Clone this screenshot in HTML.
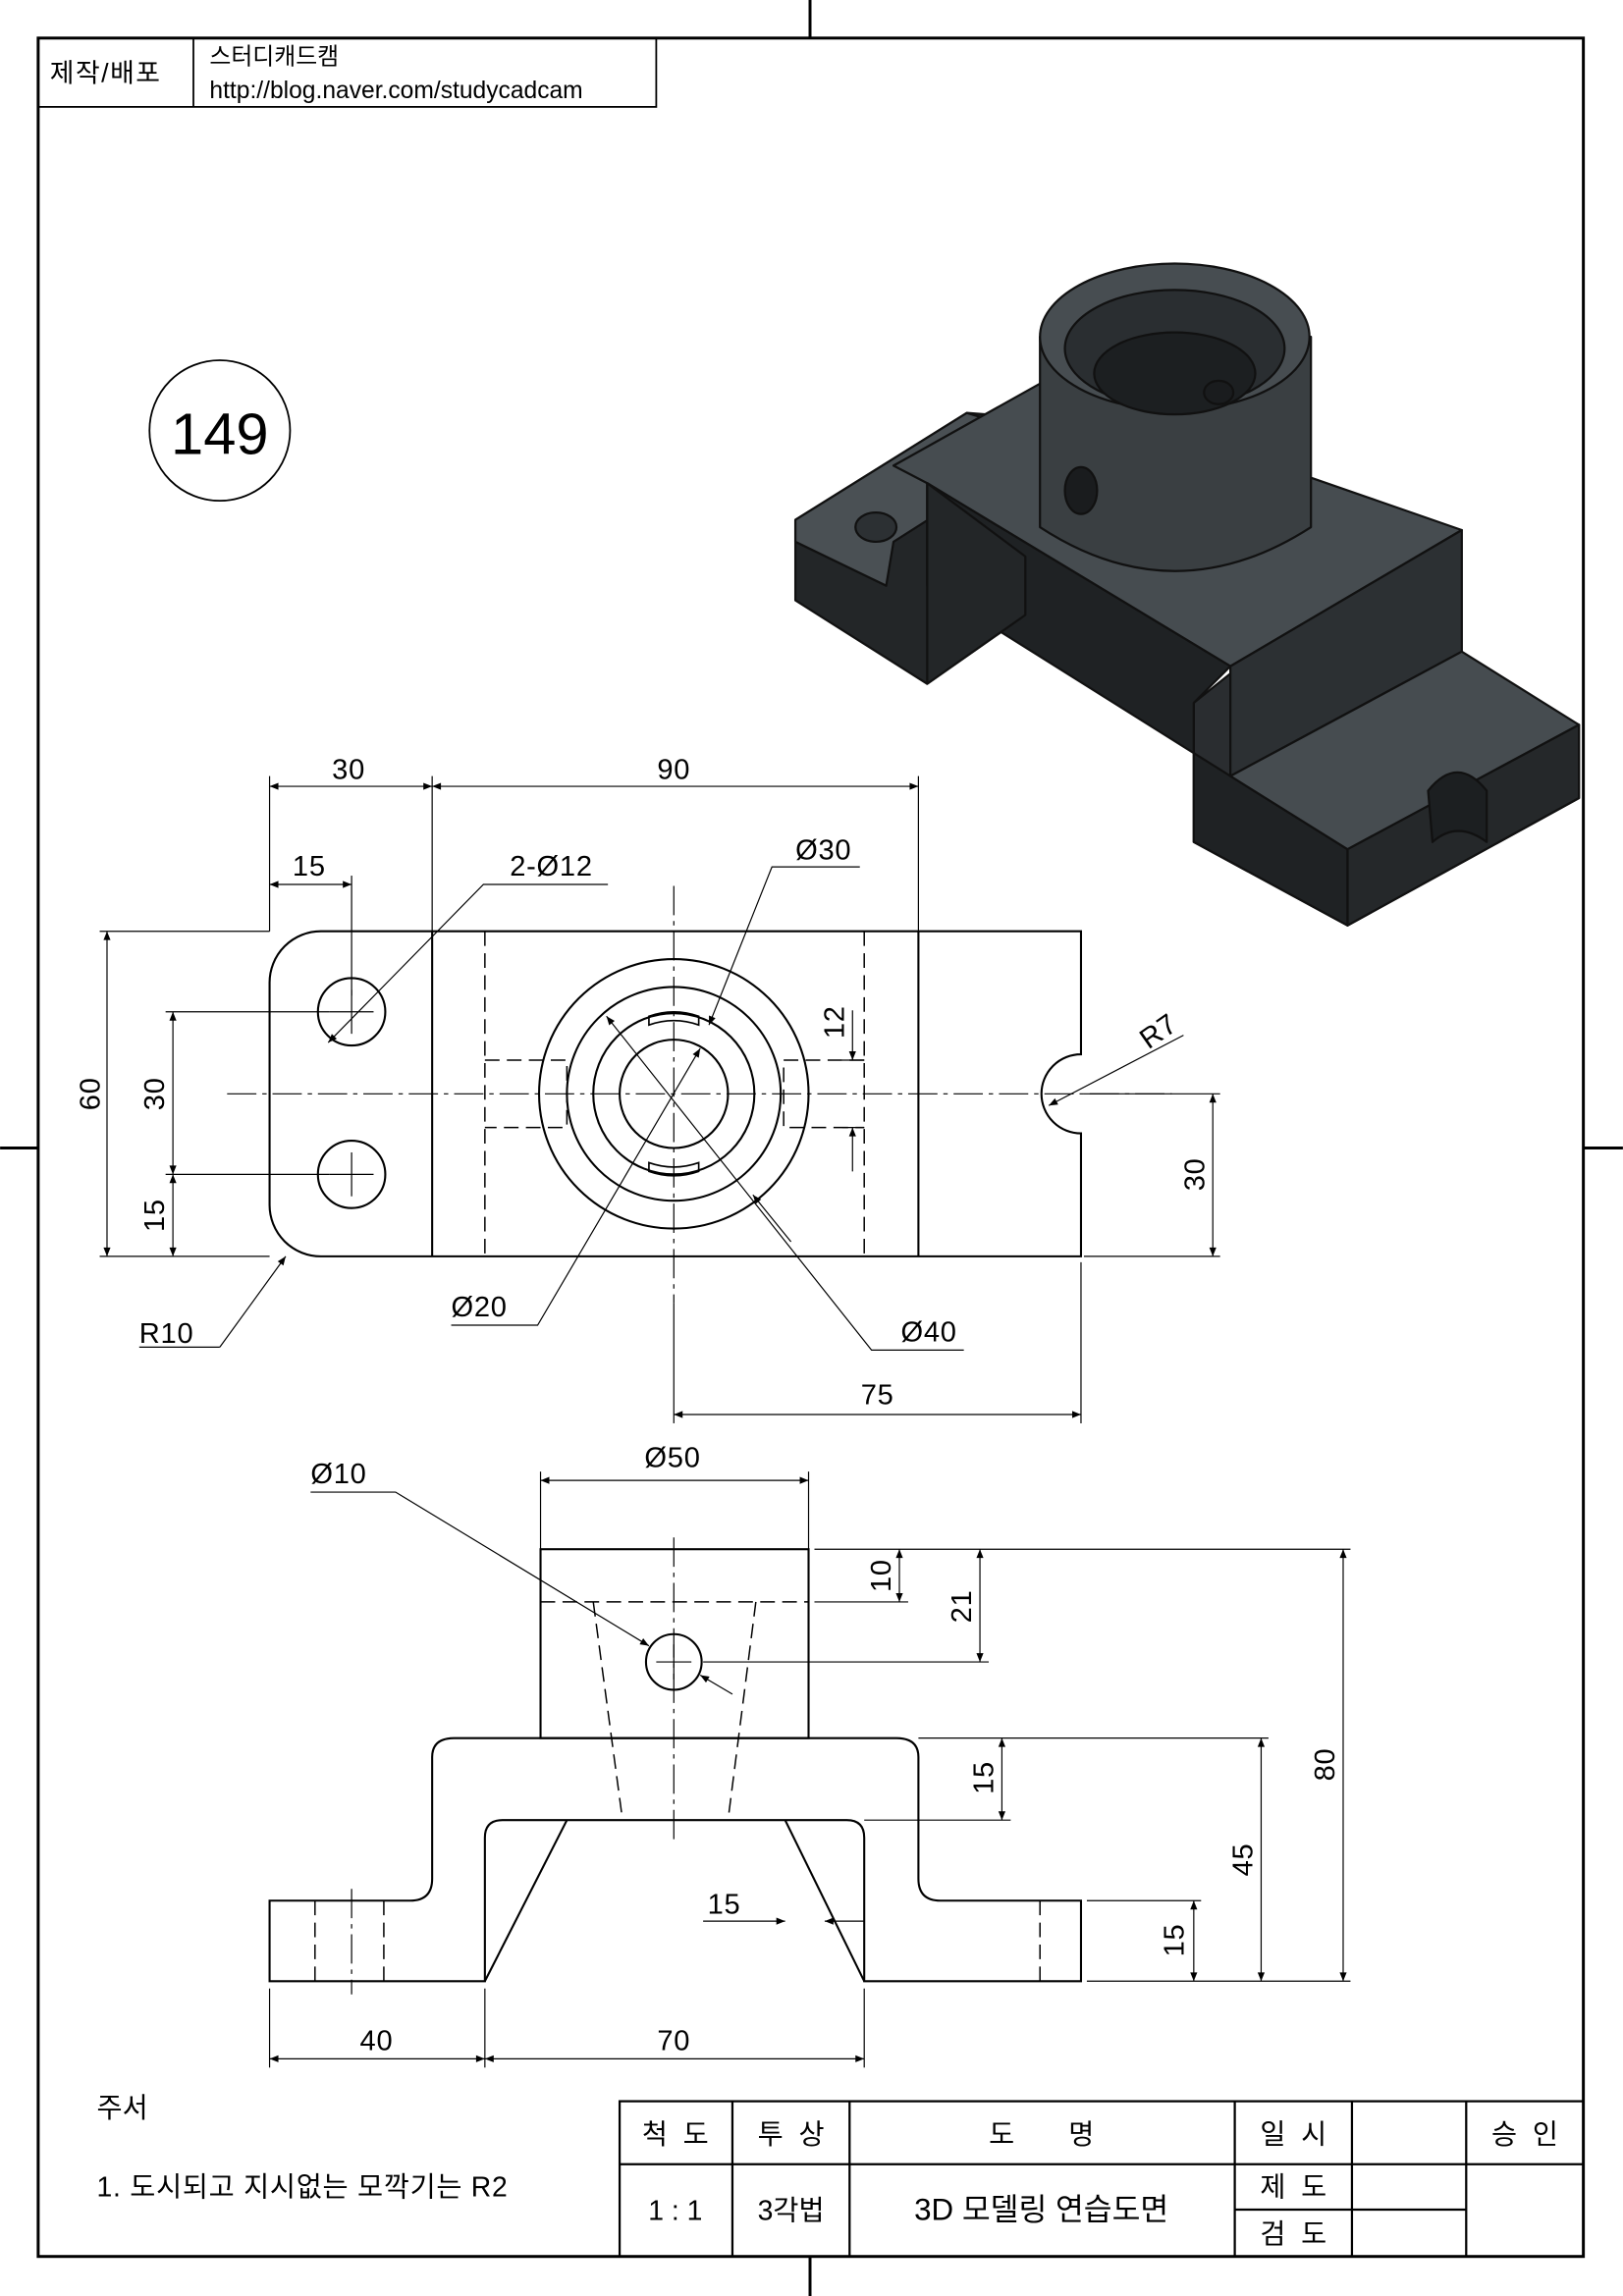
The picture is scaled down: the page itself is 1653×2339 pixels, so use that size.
<!DOCTYPE html>
<html><head><meta charset="utf-8"><style>
html,body{margin:0;padding:0;background:#fff;}
svg{display:block;}
text{font-family:"Liberation Sans","Noto Sans CJK KR",sans-serif;fill:#000;}
</style></head><body>
<svg width="1653" height="2339" viewBox="0 0 1108 1568" xmlns="http://www.w3.org/2000/svg">
<defs>
<marker id="a" viewBox="0 0 10 10" refX="10" refY="5" markerWidth="10" markerHeight="6" orient="auto-start-reverse" markerUnits="userSpaceOnUse"><path d="M0,1 L10,5 L0,9z" fill="#000"/></marker>
</defs>
<g fill="none" stroke="#000">
<rect x="26" y="26" width="1055" height="1515" stroke-width="2"/>
<line x1="553" y1="0" x2="553" y2="26" stroke-width="2"/>
<line x1="553" y1="1541" x2="553" y2="1568" stroke-width="2"/>
<line x1="0" y1="784" x2="26" y2="784" stroke-width="2"/>
<line x1="1081" y1="784" x2="1108" y2="784" stroke-width="2"/>
<rect x="26" y="26" width="422" height="47" stroke-width="1.2"/>
<line x1="132" y1="26" x2="132" y2="73" stroke-width="1.2"/>
<circle cx="150" cy="294" r="48" stroke-width="1.2"/>
</g>
<text x="34" y="56" font-size="18" letter-spacing="1">제작/배포</text>
<text x="143" y="44" font-size="16">스터디캐드캠</text>
<text x="143" y="67" font-size="16.5">http://blog.naver.com/studycadcam</text>
<text x="150" y="310" font-size="40" text-anchor="middle">149</text>

<g stroke="#111" stroke-width="1.5" stroke-linejoin="round">
<path d="M543,355 L660,282 L700,285 L700,420 L633,467 L543,410Z" fill="#232628"/>
<path d="M543,355 L660,282 L720,300 L610,370 L605,400 L543,370Z" fill="#4a5054"/>
<path d="M610,318 L710,265 L995,365 L995,445 L840,460 L815,480 L815,575 L920,632 L1078,545 L1078,495 L995,452 L995,365" fill="#2a2d30"/>
<path d="M610,318 L710,262 L998,362 L840,455 L633,330Z" fill="#464c50"/>
<path d="M633,330 L840,455 L815,480 L815,575 L920,632 L920,580 L840,530 L633,400Z" fill="#1f2224"/>
<path d="M633,330 L633,467 L700,420 L700,380Z" fill="#232628"/>
<path d="M840,455 L998,362 L998,445 L840,530Z" fill="#2c3033"/>
<path d="M840,530 L998,445 L1078,495 L920,580Z" fill="#464c50"/>
<path d="M920,580 L1078,495 L1078,545 L920,632Z" fill="#25282a"/>
<path d="M710,230 L710,360 Q802,420 895,360 L895,230Z" fill="#3a3f42"/>
<ellipse cx="802" cy="230" rx="92" ry="50" fill="#474d51"/>
<ellipse cx="802" cy="238" rx="75" ry="40" fill="#2a2e31"/>
<ellipse cx="802" cy="255" rx="55" ry="28" fill="#1c1f21"/>
<ellipse cx="738" cy="335" rx="11" ry="16" fill="#1a1c1e"/>
<ellipse cx="832" cy="268" rx="10" ry="8" fill="#1a1c1e"/>
<ellipse cx="598" cy="360" rx="14" ry="10" fill="#2c3033"/>
<path d="M975,540 Q995,515 1015,540 L1015,575 Q995,560 978,575Z" fill="#1c1f21"/>
</g>

<g fill="none" stroke="#000" stroke-width="1.4">
<path d="M219,636 L738,636 L738,720 A27,27 0 0 0 738,774 L738,858 L219,858 A35,35 0 0 1 184,823 L184,671 A35,35 0 0 1 219,636Z"/>
<line x1="295" y1="636" x2="295" y2="858"/>
<line x1="627" y1="636" x2="627" y2="858"/>
<circle cx="240" cy="691" r="23"/><circle cx="240" cy="802" r="23"/>
<circle cx="460" cy="747" r="92"/><circle cx="460" cy="747" r="73"/>
<circle cx="460" cy="747" r="55"/><circle cx="460" cy="747" r="37"/>
<path d="M443,694 Q460,688 477,694 L477,700 Q460,694 443,700Z" stroke-width="1.1"/>
<path d="M443,794 Q460,800 477,794 L477,800 Q460,806 443,800Z" stroke-width="1.1"/>
</g>
<g fill="none" stroke="#000" stroke-width="1" stroke-dasharray="10,5">
<line x1="331" y1="636" x2="331" y2="858"/><line x1="590" y1="636" x2="590" y2="858"/>
<path d="M331,724 L387,724 L387,770 L331,770"/><path d="M590,724 L535,724 L535,770 L590,770"/>
<line x1="215" y1="1298" x2="215" y2="1353"/><line x1="262" y1="1298" x2="262" y2="1353"/>
<line x1="710" y1="1298" x2="710" y2="1353"/>
<line x1="369" y1="1094" x2="552" y2="1094"/>
<line x1="405" y1="1094" x2="425" y2="1243"/><line x1="516" y1="1094" x2="497" y2="1243"/>
</g>
<g fill="none" stroke="#000" stroke-width="0.8" stroke-dasharray="20,4,3,4">
<line x1="155" y1="747" x2="800" y2="747"/>
<line x1="460" y1="605" x2="460" y2="890"/>
<line x1="460" y1="1050" x2="460" y2="1260"/>
<line x1="240" y1="1290" x2="240" y2="1362"/>
</g>
<g stroke="#000" stroke-width="0.8">
<line x1="225" y1="691" x2="255" y2="691"/><line x1="240" y1="676" x2="240" y2="706"/>
<line x1="225" y1="802" x2="255" y2="802"/><line x1="240" y1="787" x2="240" y2="817"/>
<line x1="448" y1="1135" x2="472" y2="1135"/><line x1="460" y1="1123" x2="460" y2="1147"/>
</g>

<g fill="none" stroke="#000" stroke-width="1.4">
<rect x="369" y="1058" width="183" height="129"/>
<path d="M184,1298 L280,1298 Q295,1298 295,1283 L295,1200 Q295,1187 310,1187 L612,1187 Q627,1187 627,1200 L627,1283 Q627,1298 642,1298 L738,1298 L738,1353 L590,1353 L590,1255 Q590,1243 578,1243 L343,1243 Q331,1243 331,1255 L331,1353 L184,1353Z"/>
<line x1="387" y1="1243" x2="331" y2="1353"/><line x1="536" y1="1243" x2="590" y2="1353"/>
<circle cx="460" cy="1135" r="19"/>
</g>

<g fill="none" stroke="#000" stroke-width="0.8">
<line x1="184" y1="530" x2="184" y2="636"/><line x1="295" y1="530" x2="295" y2="636"/><line x1="627" y1="530" x2="627" y2="636"/>
<line x1="184" y1="537" x2="295" y2="537" marker-start="url(#a)" marker-end="url(#a)"/>
<line x1="295" y1="537" x2="627" y2="537" marker-start="url(#a)" marker-end="url(#a)"/>
<line x1="240" y1="598" x2="240" y2="680"/>
<line x1="184" y1="604" x2="240" y2="604" marker-start="url(#a)" marker-end="url(#a)"/>
<line x1="68" y1="636" x2="184" y2="636"/><line x1="68" y1="858" x2="184" y2="858"/>
<line x1="73" y1="636" x2="73" y2="858" marker-start="url(#a)" marker-end="url(#a)"/>
<line x1="113" y1="691" x2="225" y2="691"/><line x1="113" y1="802" x2="225" y2="802"/>
<line x1="118" y1="691" x2="118" y2="802" marker-start="url(#a)" marker-end="url(#a)"/>
<line x1="118" y1="802" x2="118" y2="858" marker-start="url(#a)" marker-end="url(#a)"/>
<path d="M415,604 L330,604 L224,712" marker-end="url(#a)"/>
<path d="M587,592 L527,592 L484,700" marker-end="url(#a)"/>
<path d="M150,920 L195,858" marker-end="url(#a)"/><line x1="95" y1="920" x2="150" y2="920"/>
<path d="M308,905 L367,905 L478,716" marker-end="url(#a)"/>
<path d="M658,922 L595,922 L414,694" marker-end="url(#a)"/>
<line x1="540" y1="848" x2="514" y2="816" marker-end="url(#a)"/>
<path d="M808,707 L716,755" marker-end="url(#a)"/>
<line x1="575" y1="724" x2="590" y2="724"/><line x1="575" y1="770" x2="590" y2="770"/>
<line x1="582" y1="690" x2="582" y2="724" marker-end="url(#a)"/><line x1="582" y1="800" x2="582" y2="770" marker-end="url(#a)"/>
<line x1="740" y1="747" x2="833" y2="747"/><line x1="740" y1="858" x2="833" y2="858"/>
<line x1="828" y1="747" x2="828" y2="858" marker-start="url(#a)" marker-end="url(#a)"/>
<line x1="460" y1="890" x2="460" y2="972"/><line x1="738" y1="862" x2="738" y2="972"/>
<line x1="460" y1="966" x2="738" y2="966" marker-start="url(#a)" marker-end="url(#a)"/>
<line x1="369" y1="1005" x2="369" y2="1058"/><line x1="552" y1="1005" x2="552" y2="1058"/>
<line x1="369" y1="1011" x2="552" y2="1011" marker-start="url(#a)" marker-end="url(#a)"/>
<path d="M212,1019 L270,1019 L443,1124" marker-end="url(#a)"/>
<line x1="500" y1="1157" x2="478" y2="1144" marker-end="url(#a)"/>
<line x1="556" y1="1058" x2="922" y2="1058"/><line x1="556" y1="1094" x2="620" y2="1094"/>
<line x1="614" y1="1058" x2="614" y2="1094" marker-start="url(#a)" marker-end="url(#a)"/>
<line x1="480" y1="1135" x2="675" y2="1135"/>
<line x1="669" y1="1058" x2="669" y2="1135" marker-start="url(#a)" marker-end="url(#a)"/>
<line x1="627" y1="1187" x2="866" y2="1187"/><line x1="590" y1="1243" x2="690" y2="1243"/>
<line x1="684" y1="1187" x2="684" y2="1243" marker-start="url(#a)" marker-end="url(#a)"/>
<line x1="742" y1="1298" x2="820" y2="1298"/><line x1="742" y1="1353" x2="922" y2="1353"/>
<line x1="815" y1="1298" x2="815" y2="1353" marker-start="url(#a)" marker-end="url(#a)"/>
<line x1="861" y1="1187" x2="861" y2="1353" marker-start="url(#a)" marker-end="url(#a)"/>
<line x1="917" y1="1058" x2="917" y2="1353" marker-start="url(#a)" marker-end="url(#a)"/>
<line x1="480" y1="1312" x2="536" y2="1312" marker-end="url(#a)"/><line x1="590" y1="1312" x2="563" y2="1312" marker-end="url(#a)"/>
<line x1="184" y1="1358" x2="184" y2="1412"/><line x1="331" y1="1358" x2="331" y2="1412"/><line x1="590" y1="1358" x2="590" y2="1412"/>
<line x1="184" y1="1406" x2="331" y2="1406" marker-start="url(#a)" marker-end="url(#a)"/>
<line x1="331" y1="1406" x2="590" y2="1406" marker-start="url(#a)" marker-end="url(#a)"/>
</g>
<g font-size="19.5" letter-spacing="0.5">
<text x="238" y="532" text-anchor="middle">30</text>
<text x="460" y="532" text-anchor="middle">90</text>
<text x="211" y="598" text-anchor="middle">15</text>
<text x="348" y="598">2-Ø12</text>
<text x="543" y="587">Ø30</text>
<text x="95" y="917">R10</text>
<text x="308" y="899">Ø20</text>
<text x="615" y="916">Ø40</text>
<text x="599" y="959" text-anchor="middle">75</text>
<text x="440" y="1002">Ø50</text>
<text x="212" y="1013">Ø10</text>
<text x="483" y="1307">15</text>
<text x="257" y="1400" text-anchor="middle">40</text>
<text x="460" y="1400" text-anchor="middle">70</text>
<text transform="translate(784,717) rotate(-35)">R7</text>
<text transform="translate(68,747) rotate(-90)" text-anchor="middle">60</text>
<text transform="translate(112,747) rotate(-90)" text-anchor="middle">30</text>
<text transform="translate(112,830) rotate(-90)" text-anchor="middle">15</text>
<text transform="translate(576,698) rotate(-90)" text-anchor="middle">12</text>
<text transform="translate(822,802) rotate(-90)" text-anchor="middle">30</text>
<text transform="translate(608,1076) rotate(-90)" text-anchor="middle">10</text>
<text transform="translate(663,1097) rotate(-90)" text-anchor="middle">21</text>
<text transform="translate(678,1214) rotate(-90)" text-anchor="middle">15</text>
<text transform="translate(808,1325) rotate(-90)" text-anchor="middle">15</text>
<text transform="translate(855,1270) rotate(-90)" text-anchor="middle">45</text>
<text transform="translate(911,1205) rotate(-90)" text-anchor="middle">80</text>
</g>

<text x="66" y="1446" font-size="19">주서</text>
<text x="66" y="1500" font-size="19" letter-spacing="0.5">1. 도시되고 지시없는 모깍기는 R2</text>

<g fill="none" stroke="#000" stroke-width="1.5">
<rect x="423" y="1435" width="658" height="106"/>
<line x1="423" y1="1478" x2="1081" y2="1478"/>
<line x1="500" y1="1435" x2="500" y2="1541"/>
<line x1="580" y1="1435" x2="580" y2="1541"/>
<line x1="843" y1="1435" x2="843" y2="1541"/>
<line x1="923" y1="1435" x2="923" y2="1541"/>
<line x1="1001" y1="1435" x2="1001" y2="1541"/>
<line x1="843" y1="1509" x2="1001" y2="1509"/>
</g>
<g font-size="19" text-anchor="middle">
<text x="461" y="1464">척&#160;&#160;도</text>
<text x="540" y="1464">투&#160;&#160;상</text>
<text x="711" y="1464">도&#160;&#160;&#160;&#160;&#160;&#160;&#160;명</text>
<text x="883" y="1464">일&#160;&#160;시</text>
<text x="1041" y="1464">승&#160;&#160;인</text>
<text x="461" y="1516">1 : 1</text>
<text x="540" y="1516">3각법</text>
<text x="711" y="1516" font-size="21">3D 모델링 연습도면</text>
<text x="883" y="1500">제&#160;&#160;도</text>
<text x="883" y="1532">검&#160;&#160;도</text>
</g>
</svg>
</body></html>
